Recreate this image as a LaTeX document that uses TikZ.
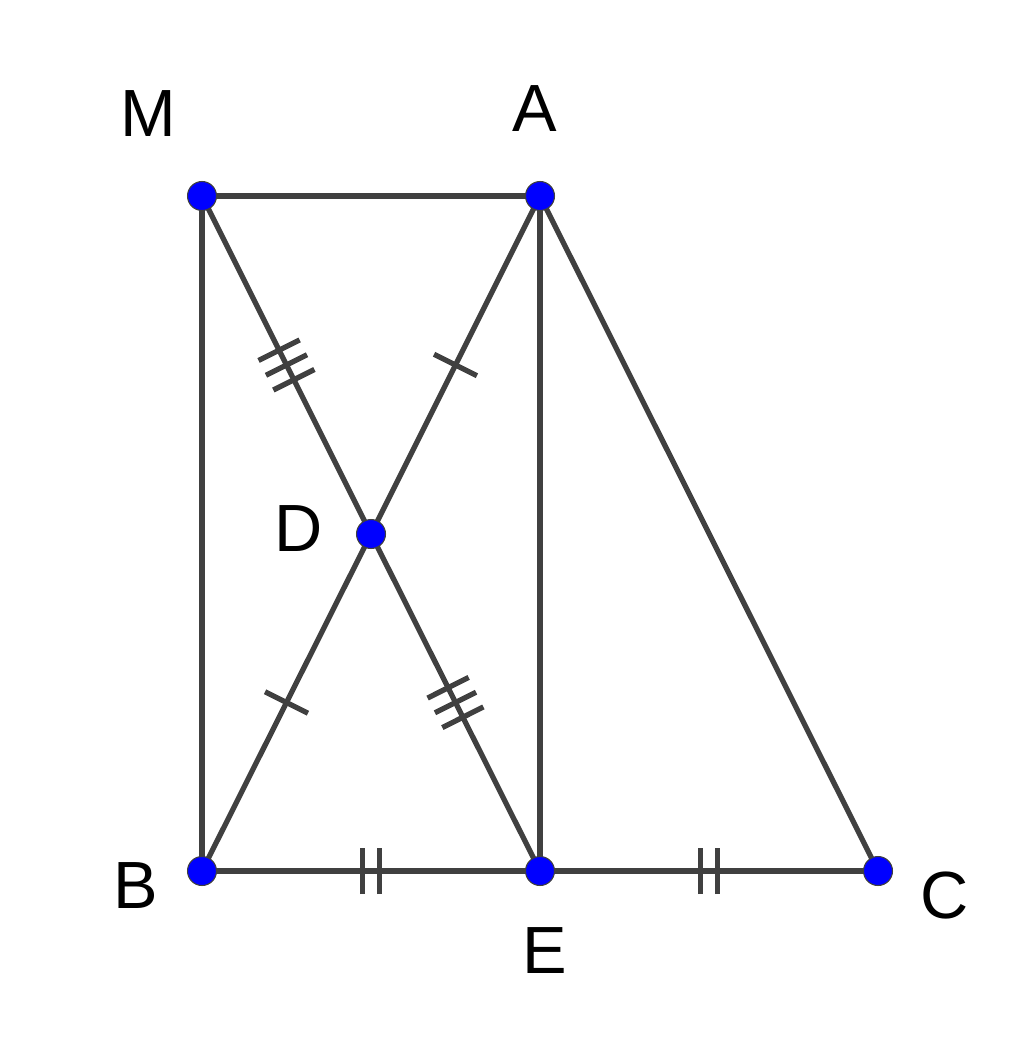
\documentclass[tikz,border=0pt]{standalone}
\usepackage{fontspec}
\setmainfont{Liberation Sans}
\usetikzlibrary{decorations.markings}
\definecolor{segc}{HTML}{404040}
\definecolor{ptc}{HTML}{0000FF}
\begin{document}
\begin{tikzpicture}[x=0.02cm,y=-0.02cm,
  seg/.style={draw=segc,line width=3pt},
  pt/.style={circle,fill=ptc,draw=segc,line width=0.6pt,minimum size=0.58cm,inner sep=0pt},
  lab/.style={font=\fontsize{38}{40}\selectfont,text=black,inner sep=0pt},
  tickone/.style={postaction={decorate},decoration={markings,mark=at position 0.5 with {\draw[segc,line width=3pt] (0,-0.48cm)--(0,0.48cm);}}},
  ticktwo/.style={postaction={decorate},decoration={markings,mark=at position 0.5 with {\draw[segc,line width=3pt] (-0.17cm,-0.46cm)--(-0.17cm,0.46cm) (0.17cm,-0.46cm)--(0.17cm,0.46cm);}}},
  tickthree/.style={postaction={decorate},decoration={markings,mark=at position 0.5 with {\draw[segc,line width=3pt] (-0.33cm,-0.46cm)--(-0.33cm,0.46cm) (0,-0.46cm)--(0,0.46cm) (0.33cm,-0.46cm)--(0.33cm,0.46cm);}}}
]
\useasboundingbox (0,0) rectangle (1024,1044);
\coordinate (M) at (202,196);
\coordinate (A) at (540,196);
\coordinate (D) at (371,534);
\coordinate (B) at (202,871);
\coordinate (E) at (540,871);
\coordinate (C) at (878,871);
\path[seg] (M) -- (A);
\path[seg] (M) -- (B);
\path[seg] (A) -- (E);
\path[seg] (A) -- (C);
\path[seg,ticktwo] (B) -- (E);
\path[seg,ticktwo] (E) -- (C);
\path[seg,tickthree] (M) -- (D);
\path[seg,tickthree] (D) -- (E);
\path[seg,tickone] (A) -- (D);
\path[seg,tickone] (D) -- (B);
\node[pt] (pM) at (M) {};
\node[pt] (pA) at (A) {};
\node[pt] (pD) at (D) {};
\node[pt] (pB) at (B) {};
\node[pt] (pE) at (E) {};
\node[pt] (pC) at (C) {};
\node[lab] (lM) at (148,114) {M};
\node[lab] (lA) at (535,109) {A};
\node[lab] (lD) at (299,529) {D};
\node[lab] (lB) at (136,886) {B};
\node[lab] (lE) at (545,951) {E};
\node[lab] (lC) at (945,896) {C};
\end{tikzpicture}
\end{document}
